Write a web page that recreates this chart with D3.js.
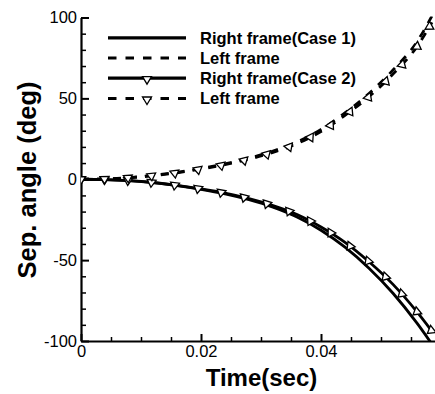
<!DOCTYPE html>
<html>
<head>
<meta charset="utf-8">
<script src="https://cdn.jsdelivr.net/npm/d3@7"></script>
<style>
  html, body { margin: 0; padding: 0; background: #fff; }
  svg { display: block; }
  text { font-family: "Liberation Sans", Arial, sans-serif; fill: #000; }
</style>
</head>
<body>
<script>
// ---- data ----
const times = [0, 0.004, 0.008, 0.012, 0.016, 0.020, 0.024, 0.028, 0.032, 0.036, 0.040, 0.044, 0.048, 0.052, 0.056, 0.0585];
const rightCase1 = [0, -0.2, -0.9, -2.1, -3.9, -6.2, -9.0, -12.6, -17.2, -23.3, -31.5, -42, -55, -70.5, -89, -102];
const leftCase1  = [0, 0.2, 1.0, 2.4, 4.3, 6.7, 9.5, 13.0, 17.4, 23.0, 30.8, 41, 53, 67.5, 85, 101];
const rightCase2 = [0, -0.2, -0.8, -2.0, -3.8, -6.0, -8.6, -12.0, -16.3, -21.8, -29.5, -39, -51, -65, -82, -94];
const leftCase2  = [0, 0.2, 0.9, 2.2, 4.0, 6.3, 9.0, 12.4, 16.6, 22.0, 29.5, 39.5, 51, 65, 82, 97];

const seriesNames = ["Right frame(Case 1)", "Left frame", "Right frame(Case 2)", "Left frame"];
const seriesValues = [rightCase1, leftCase1, rightCase2, leftCase2];
const seriesDashed = [false, true, false, true];
const seriesMarker = [false, false, true, true];

const xMajorTicks = [0, 0.02, 0.04];
const xTickLabels = ["0", "0.02", "0.04"];
const yMajorTicks = [-100, -50, 0, 50, 100];
const yTickLabels = ["-100", "-50", "0", "50", "100"];
const xTitle = "Time(sec)";
const yTitle = "Sep. angle (deg)";

// ---- layout ----
const W = 435, H = 394;
const pLeft = 81, pRight = 435, pTop = 17.5, pBottom = 341;

const svg = d3.select("body").append("svg").attr("width", W).attr("height", H);

const x = d3.scaleLinear().domain([0, 0.059]).range([pLeft, pRight]);
const y = d3.scaleLinear().domain([-100, 100]).range([pBottom, pTop]);

svg.append("defs").append("clipPath").attr("id", "clip")
  .append("rect").attr("x", pLeft).attr("y", pTop - 1).attr("width", pRight - pLeft).attr("height", pBottom - pTop + 1);

// minor ticks
const xMinor = d3.range(0, 0.0591, 0.005).filter(v => !xMajorTicks.some(m => Math.abs(m - v) < 1e-9));
const yMinor = d3.range(-100, 100.1, 10).filter(v => !yMajorTicks.includes(v));

svg.append("g").attr("transform", `translate(0,${pBottom})`)
  .call(d3.axisBottom(x).tickValues(xMinor).tickSizeInner(-4).tickSizeOuter(0).tickFormat(""))
  .call(g => g.select(".domain").remove())
  .call(g => g.selectAll("line").attr("stroke-width", 1.5));
svg.append("g").attr("transform", `translate(${pLeft},0)`)
  .call(d3.axisLeft(y).tickValues(yMinor).tickSizeInner(-5).tickSizeOuter(0).tickFormat(""))
  .call(g => g.select(".domain").remove())
  .call(g => g.selectAll("line").attr("stroke-width", 1.5));

// major axes
const xAxis = svg.append("g").attr("transform", `translate(0,${pBottom})`)
  .call(d3.axisBottom(x).tickValues(xMajorTicks).tickSizeInner(-7).tickSizeOuter(0).tickPadding(4)
    .tickFormat((d, i) => xTickLabels[i]));
xAxis.select(".domain").attr("stroke-width", 2.2);
xAxis.selectAll("line").attr("stroke-width", 2);
xAxis.selectAll("text").attr("font-size", 16.5).attr("font-family", "Liberation Sans, Arial, sans-serif");

const yAxis = svg.append("g").attr("transform", `translate(${pLeft},0)`)
  .call(d3.axisLeft(y).tickValues(yMajorTicks).tickSizeInner(-8).tickSizeOuter(0).tickPadding(4)
    .tickFormat((d, i) => yTickLabels[i]));
yAxis.select(".domain").attr("stroke-width", 2.2);
yAxis.selectAll("line").attr("stroke-width", 2);
yAxis.selectAll("text").attr("font-size", 16.5).attr("font-family", "Liberation Sans, Arial, sans-serif");

// axis titles
svg.append("text").attr("x", 261.5).attr("y", 386).attr("text-anchor", "middle")
  .attr("font-size", 24).attr("font-weight", "bold").text(xTitle);
svg.append("text").attr("transform", `translate(35.5,180) rotate(-90)`).attr("text-anchor", "middle")
  .attr("font-size", 25.5).attr("font-weight", "bold").text(yTitle);

// curves
const line = d3.line().x((d, i) => x(times[i])).y(d => y(d)).curve(d3.curveMonotoneX);
const plot = svg.append("g").attr("clip-path", "url(#clip)");
const triPath = "M-4.5,-2.5L4.5,-2.5L0,5Z";
const markerSpacing = 23.5;

seriesValues.forEach((vals, si) => {
  const p = plot.append("path")
    .attr("d", line(vals))
    .attr("fill", "none")
    .attr("stroke", "#000")
    .attr("stroke-width", 2.8)
    .attr("stroke-dasharray", seriesDashed[si] ? "8,8" : null);
  if (seriesMarker[si]) {
    const node = p.node();
    const L = node.getTotalLength();
    for (let s = 0; s <= L; s += markerSpacing) {
      const pt = node.getPointAtLength(s);
      const pt2 = node.getPointAtLength(Math.min(L, s + 1));
      const pt1 = node.getPointAtLength(Math.max(0, s - 1));
      const ang = Math.atan2(pt2.y - pt1.y, pt2.x - pt1.x) * 180 / Math.PI;
      plot.append("path").attr("d", triPath)
        .attr("transform", `translate(${pt.x},${pt.y}) rotate(${ang})`)
        .attr("fill", "#fff").attr("stroke", "#000").attr("stroke-width", 1.3);
    }
  }
});

// legend
const legY = [37.8, 58, 78.2, 98.5];
const leg = svg.append("g");
seriesNames.forEach((name, i) => {
  const ly = legY[i];
  leg.append("line").attr("x1", 108).attr("x2", 186).attr("y1", ly).attr("y2", ly)
    .attr("stroke", "#000").attr("stroke-width", 3.2)
    .attr("stroke-dasharray", seriesDashed[i] ? "8.5,9" : null);
  if (seriesMarker[i]) {
    leg.append("path").attr("d", triPath).attr("transform", `translate(147,${ly + 1})`)
      .attr("fill", "#fff").attr("stroke", "#000").attr("stroke-width", 1.3);
  }
  leg.append("text").attr("x", 200).attr("y", ly + 5.7).attr("font-size", 16.5).attr("font-weight", "bold").text(name);
});
</script>
</body>
</html>
